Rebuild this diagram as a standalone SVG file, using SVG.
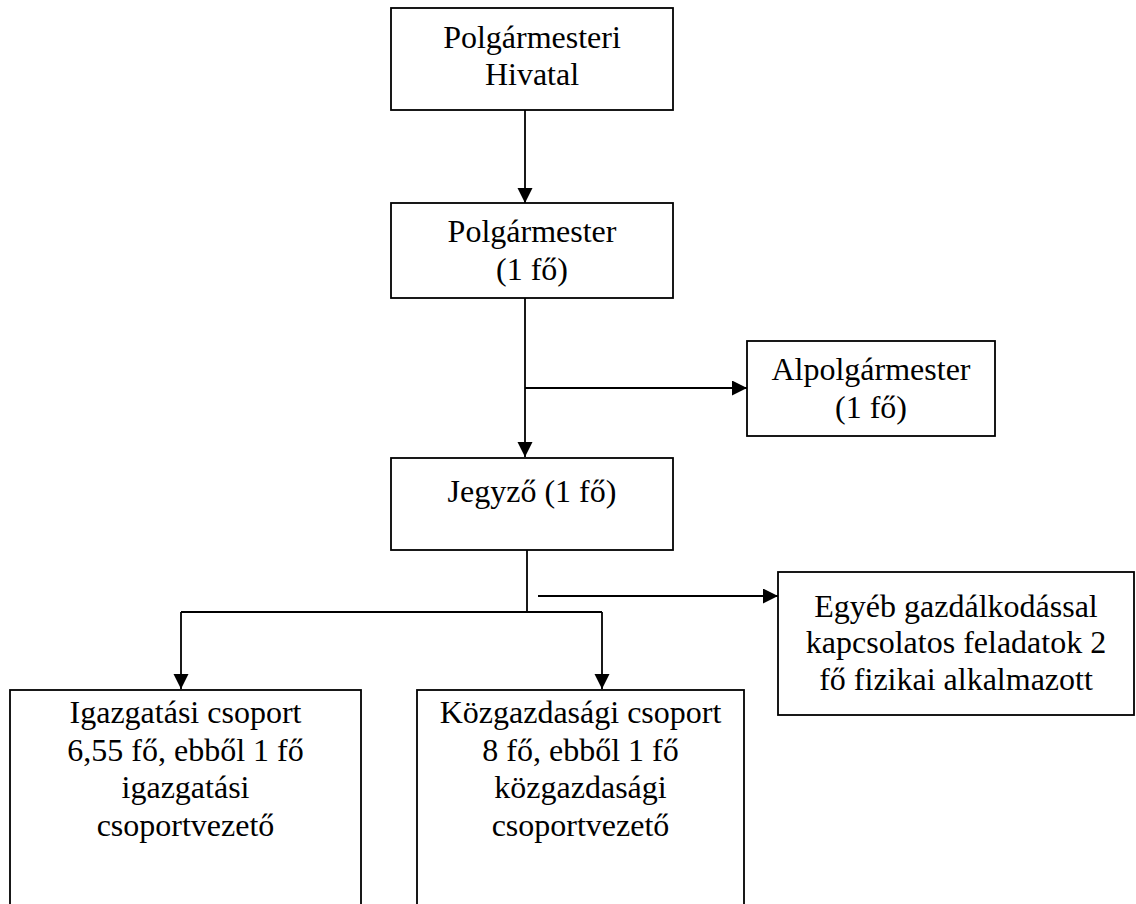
<svg xmlns="http://www.w3.org/2000/svg" width="1136" height="904" viewBox="0 0 1136 904">
<style>
rect.box{fill:#fff;stroke:#000;stroke-width:1.8}
text{font-size:32px;fill:#000;text-anchor:middle}
.conn path{fill:none;stroke:#000;stroke-width:1.8}
</style>
<defs>
<marker id="arr" markerUnits="userSpaceOnUse" markerWidth="16" markerHeight="16" refX="15" refY="7.5" orient="auto">
<path d="M0,0 L15,7.5 L0,15 z" fill="#000"/>
</marker>
</defs>
<rect width="1136" height="904" fill="#fff"/>
<g class="conn" id="connectors">
<path d="M525,110 V203" marker-end="url(#arr)"/>
<path d="M525,298 V457" marker-end="url(#arr)"/>
<path d="M525,388 H747" marker-end="url(#arr)"/>
<path d="M527,550 V612"/>
<path d="M181,612 H602"/>
<path d="M181,612 V689" marker-end="url(#arr)"/>
<path d="M602,612 V689" marker-end="url(#arr)"/>
<path d="M538,596 H778" marker-end="url(#arr)"/>
</g>
<g font-family="Liberation Serif, DejaVu Serif, serif">
<g id="hivatal">
<rect class="box" x="391" y="8" width="282" height="102"/>
<text x="532" y="48">Polgármesteri</text>
<text x="532" y="85">Hivatal</text>
</g>
<g id="polgarmester">
<rect class="box" x="391" y="203" width="282" height="95"/>
<text x="532" y="242">Polgármester</text>
<text x="532" y="280">(1 fő)</text>
</g>
<g id="alpolgarmester">
<rect class="box" x="747" y="341" width="248" height="95"/>
<text x="871" y="380">Alpolgármester</text>
<text x="871" y="418">(1 fő)</text>
</g>
<g id="jegyzo">
<rect class="box" x="391" y="458" width="282" height="92"/>
<text x="532" y="502">Jegyző (1 fő)</text>
</g>
<g id="egyeb">
<rect class="box" x="778" y="572" width="356" height="143"/>
<text x="956" y="617">Egyéb gazdálkodással</text>
<text x="956" y="653">kapcsolatos feladatok 2</text>
<text x="956" y="690">fő fizikai alkalmazott</text>
</g>
<g id="igazgatasi">
<rect class="box" x="10" y="690" width="351" height="230"/>
<text x="185.5" y="723">Igazgatási csoport</text>
<text x="185.5" y="761">6,55 fő, ebből 1 fő</text>
<text x="185.5" y="798">igazgatási</text>
<text x="185.5" y="836">csoportvezető</text>
</g>
<g id="kozgazdasagi">
<rect class="box" x="417" y="690" width="327" height="230"/>
<text x="580.5" y="723">Közgazdasági csoport</text>
<text x="580.5" y="761">8 fő, ebből 1 fő</text>
<text x="580.5" y="798">közgazdasági</text>
<text x="580.5" y="836">csoportvezető</text>
</g>
</g>
</svg>
